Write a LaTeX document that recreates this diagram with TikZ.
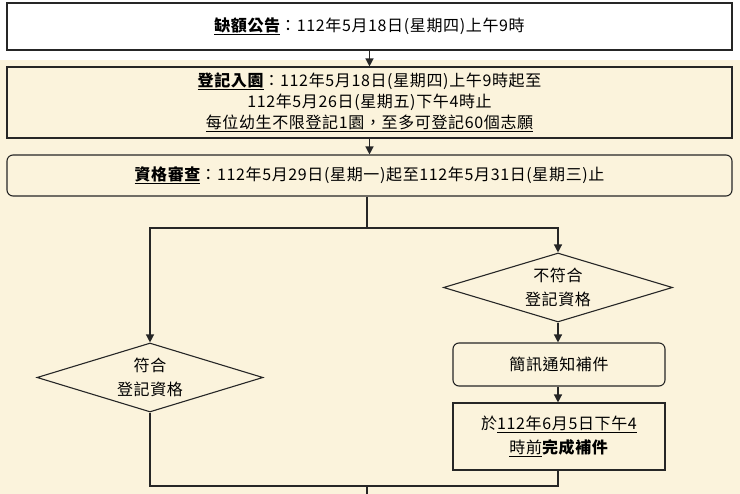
\documentclass[tikz,border=0pt]{standalone}
\usepackage{fontspec}
\setmainfont{Noto Sans CJK TC}[LetterSpace=4]
\usetikzlibrary{shapes.geometric,arrows.meta}
\definecolor{cream}{HTML}{FBF3DC}
\tikzset{
 box/.style={draw=black!85,line width=1.1pt,fill=cream,align=center,font=\fontsize{16}{21}\selectfont,inner sep=0pt},
 dia/.style={draw=black!85,line width=1.1pt,fill=cream,diamond,inner sep=0pt},
 dtext/.style={align=center,font=\fontsize{16}{24}\selectfont,inner sep=0pt},
 conn/.style={line width=1.3pt,black!85},
 arr/.style={conn,-{Triangle[length=8pt,width=8pt]}}
}
\begin{document}
\begin{tikzpicture}[x=1pt,y=-1pt]
\useasboundingbox (0,0) rectangle (740,494);
\fill[white] (0,0) rectangle (740,60);
\fill[cream] (0,60) rectangle (740,494);
\node[box,fill=white,minimum width=725pt,minimum height=47pt] (a) at (369.5,26.5) {\textbf{\underline{缺額公告}}：112年5月18日(星期四)上午9時};
\node[box,minimum width=725pt,minimum height=71pt] (b) at (369.5,102.5) {\textbf{\underline{登記入園}}：112年5月18日(星期四)上午9時起至\\112年5月26日(星期五)下午4時止\\\underline{每位幼生不限登記1園，至多可登記60個志願}};
\node[box,rounded corners=6pt,minimum width=725pt,minimum height=41pt] (c) at (369.5,175.5) {\textbf{\underline{資格審查}}：112年5月29日(星期一)起至112年5月31日(星期三)止};
\node[dia,minimum width=226pt,minimum height=69pt] (l) at (150,377.5) {};
\node[dtext] (lt) at (l.center) {符合\\登記資格};
\node[dia,minimum width=229pt,minimum height=69pt] (r) at (558,287.5) {};
\node[dtext] (rt) at (r.center) {不符合\\登記資格};
\node[box,rounded corners=6pt,minimum width=212pt,minimum height=43pt] (s) at (559,364.5) {簡訊通知補件};
\node[box,minimum width=212pt,minimum height=67pt,font=\fontsize{16}{24}\selectfont] (t) at (559,436.5) {於\underline{112年6月5日下午4}\\\underline{時前}\textbf{完成補件}};
\coordinate (j) at (367,228);
\coordinate (k) at (367,486);
\coordinate (e) at (367,494);
\draw[arr] (a) -- (b);
\draw[arr] (b.south -| a) -- (c.north -| a);
\draw[conn] (c.south -| j) -- (j);
\draw[arr] (j) -| (l.north);
\draw[arr] (j) -| (r.north);
\draw[arr] (r.south) -- (s.north -| r);
\draw[arr] (s.south -| r) -- (t.north -| r);
\draw[conn] (l.south) |- (k);
\draw[conn] (t.south -| r) |- (k);
\draw[conn] (k) -- (e);
\end{tikzpicture}
\end{document}
